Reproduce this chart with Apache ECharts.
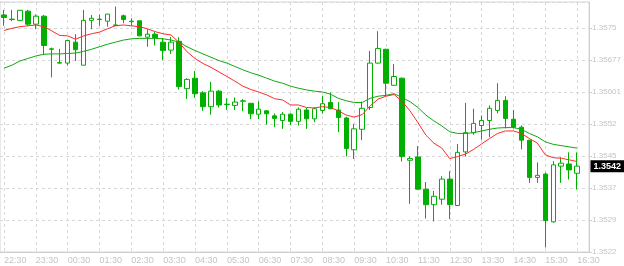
<!DOCTYPE html>
<html>
<head>
<meta charset="utf-8">
<script src="https://cdn.jsdelivr.net/npm/echarts@6/dist/echarts.min.js"></script>
<style>
html,body{margin:0;padding:0;background:#fff;}
#chart{width:624px;height:266px;}
</style>
</head>
<body>
<div id="chart"></div>
<script>
// 15-minute bars starting 22:30, last bar 16:30 (plus one empty slot)
const categories = [];
(function(){
  let h = 22, m = 30;
  for (let i = 0; i < 74; i++) {
    categories.push(String(h).padStart(2,'0') + ':' + String(m).padStart(2,'0'));
    m += 15; if (m >= 60) { m -= 60; h = (h + 1) % 24; }
  }
})();

const opens = [1.35786,1.35776,1.35773,1.35795,1.35764,1.35783,1.35705,1.35672,1.35671,1.35721,
1.35666,1.35773,1.35776,1.35771,1.35761,1.35784,1.35771,1.35772,1.35733,1.35740,
1.35721,1.35702,1.35723,1.35610,1.35635,1.35600,1.35567,1.35604,1.35573,1.35570,
1.35580,1.35575,1.35549,1.35557,1.35545,1.35534,1.35549,1.35532,1.35559,1.35538,
1.35558,1.35577,1.35559,1.35540,1.35464,1.35513,1.35565,1.35671,1.35704,1.35618,
1.35635,1.35439,1.35447,1.35370,1.35333,1.35346,1.35394,1.35331,1.35459,1.35505,
1.35522,1.35534,1.35558,1.35582,1.35537,1.35518,1.35487,1.35398,1.35406,1.35292,
1.35425,1.35430,1.35408];
const closes = [1.35780,1.35775,1.35797,1.35764,1.35783,1.35713,1.35704,1.35671,1.35725,1.35703,
1.35773,1.35778,1.35775,1.35788,1.35762,1.35775,1.35770,1.35736,1.35740,1.35732,
1.35701,1.35721,1.35615,1.35632,1.35598,1.35567,1.35604,1.35571,1.35572,1.35578,
1.35581,1.35550,1.35561,1.35550,1.35539,1.35549,1.35532,1.35561,1.35538,1.35562,
1.35574,1.35562,1.35541,1.35467,1.35514,1.35563,1.35671,1.35706,1.35623,1.35639,
1.35448,1.35443,1.35370,1.35333,1.35353,1.35394,1.35333,1.35458,1.35505,1.35527,
1.35534,1.35563,1.35582,1.35539,1.35518,1.35487,1.35398,1.35403,1.35295,1.35428,
1.35432,1.35416,1.35425];
const lows = [1.35760,1.35771,1.35771,1.35760,1.35752,1.35690,1.35637,1.35670,1.35665,1.35676,
1.35666,1.35752,1.35760,1.35758,1.35760,1.35766,1.35760,1.35735,1.35710,1.35713,
1.35678,1.35693,1.35608,1.35585,1.35588,1.35557,1.35548,1.35565,1.35559,1.35559,
1.35556,1.35537,1.35537,1.35524,1.35518,1.35514,1.35523,1.35522,1.35514,1.35530,
1.35550,1.35561,1.35506,1.35448,1.35442,1.35487,1.35559,1.35670,1.35592,1.35617,
1.35436,1.35335,1.35369,1.35300,1.35293,1.35333,1.35299,1.35330,1.35448,1.35500,
1.35488,1.35494,1.35551,1.35515,1.35515,1.35465,1.35385,1.35385,1.35231,1.35290,
1.35385,1.35393,1.35369];
const highs = [1.35798,1.35798,1.35798,1.35798,1.35787,1.35786,1.35708,1.35705,1.35725,1.35740,
1.35798,1.35786,1.35787,1.35788,1.35806,1.35787,1.35778,1.35772,1.35752,1.35745,
1.35731,1.35733,1.35733,1.35635,1.35652,1.35604,1.35626,1.35607,1.35587,1.35589,
1.35585,1.35575,1.35580,1.35559,1.35551,1.35554,1.35551,1.35565,1.35564,1.35565,
1.35593,1.35601,1.35578,1.35543,1.35526,1.35579,1.35700,1.35747,1.35705,1.35669,
1.35636,1.35448,1.35473,1.35387,1.35366,1.35401,1.35413,1.35478,1.35576,1.35562,
1.35546,1.35570,1.35623,1.35592,1.35559,1.35522,1.35488,1.35434,1.35410,1.35437,
1.35446,1.35458,1.35458];

const maFast = [1.35749,1.35754,1.35758,1.35760,1.35762,1.35758,1.35748,1.35737,1.35736,1.35728,
1.35736,1.35741,1.35745,1.35753,1.35760,1.35762,1.35760,1.35758,1.35753,1.35746,
1.35741,1.35738,1.35720,1.35698,1.35682,1.35670,1.35661,1.35650,1.35639,1.35628,
1.35616,1.35608,1.35602,1.35595,1.35586,1.35583,1.35571,1.35571,1.35565,1.35564,
1.35567,1.35565,1.35557,1.35547,1.35542,1.35548,1.35569,1.35585,1.35592,1.35596,
1.35580,1.35557,1.35529,1.35499,1.35480,1.35468,1.35443,1.35448,1.35454,1.35465,
1.35478,1.35491,1.35503,1.35509,1.35509,1.35503,1.35491,1.35480,1.35452,1.35445,
1.35444,1.35440,1.35436];
const maSlow = [1.35659,1.35666,1.35676,1.35682,1.35688,1.35692,1.35693,1.35693,1.35694,1.35695,
1.35699,1.35704,1.35710,1.35716,1.35721,1.35726,1.35729,1.35730,1.35730,1.35730,
1.35729,1.35726,1.35721,1.35710,1.35701,1.35693,1.35685,1.35677,1.35671,1.35663,
1.35655,1.35648,1.35642,1.35635,1.35628,1.35623,1.35616,1.35611,1.35607,1.35604,
1.35602,1.35597,1.35587,1.35581,1.35577,1.35577,1.35587,1.35592,1.35594,1.35598,
1.35589,1.35579,1.35565,1.35547,1.35533,1.35521,1.35507,1.35503,1.35503,1.35505,
1.35509,1.35513,1.35516,1.35517,1.35517,1.35513,1.35503,1.35495,1.35483,1.35477,
1.35474,1.35471,1.35468];

const yTickLabels = ['1.3522','1.3529','1.3537','1.3545','1.3552','1.35601','1.35677','1.3575'];
const yMin = 1.3522, yStep = 0.000764, yMax = 1.3522 + 0.000764 * 250 / 32;
const currentPrice = 1.35425, currentPriceLabel = '1.3542';

const candleData = opens.map((o, i) => [o, closes[i], lows[i], highs[i]]);

const GREEN = '#00b000';
const chart = echarts.init(document.getElementById('chart'), null, {renderer: 'canvas'});
chart.setOption({
  animation: false,
  backgroundColor: '#ffffff',
  axisPointer: {triggerOn: 'none', link: []},
  grid: {left: 0, top: 2, right: 32, bottom: 14, show: true, borderColor: '#d4d4d4', borderWidth: 1, backgroundColor: 'transparent'},
  xAxis: {
    type: 'category',
    data: categories,
    boundaryGap: true,
    axisLine: {show: true, lineStyle: {color: '#cfcfcf'}},
    axisTick: {show: false},
    axisLabel: {interval: 3, align: 'left', margin: 4, color: '#c4c4c4', fontSize: 9, fontFamily: 'Liberation Sans'},
    splitLine: {show: true, interval: 3, alignWithLabel: true, lineStyle: {color: '#d8d8d8', type: [3, 3], width: 1}}
  },
  yAxis: {
    type: 'value',
    position: 'right',
    min: yMin,
    max: yMax,
    interval: yStep,
    scale: true,
    axisLine: {show: true, lineStyle: {color: '#cfcfcf'}},
    axisTick: {show: true, length: 3, lineStyle: {color: '#cfcfcf'}},
    axisLabel: {
      margin: 3, color: '#c4c4c4', fontSize: 8, fontFamily: 'Liberation Sans',
      showMaxLabel: false,
      formatter: function (v) {
        const k = (v - yMin) / yStep;
        const r = Math.round(k);
        if (Math.abs(k - r) > 0.01 || r < 0 || r >= yTickLabels.length) return '';
        return yTickLabels[r];
      }
    },
    splitLine: {show: true, lineStyle: {color: '#d8d8d8', type: [3, 3], width: 1}},
    axisPointer: {
      show: true,
      type: 'line',
      value: currentPrice,
      status: 'show',
      snap: false,
      triggerTooltip: false,
      lineStyle: {color: 'rgba(0,0,0,0)', width: 0},
      label: {show: true, formatter: currentPriceLabel, backgroundColor: '#000000', color: '#ffffff',
              fontSize: 9, fontWeight: 'bold', fontFamily: 'Liberation Sans', padding: [2, 3, 1, 3], margin: 2,
              borderRadius: 0, borderWidth: 0, shadowBlur: 0}
    }
  },
  series: [
    {
      type: 'candlestick',
      data: candleData,
      barWidth: 5,
      clip: false,
      z: 2,
      itemStyle: {color: '#ffffff', color0: GREEN, borderColor: GREEN, borderColor0: GREEN, borderWidth: 1}
    },
    {type: 'line', data: maSlow, showSymbol: false, symbol: 'none', lineStyle: {color: '#10a810', width: 1}, z: 3},
    {type: 'line', data: maFast, showSymbol: false, symbol: 'none', lineStyle: {color: '#ff2a2a', width: 1}, z: 4}
  ]
});
</script>
</body>
</html>
